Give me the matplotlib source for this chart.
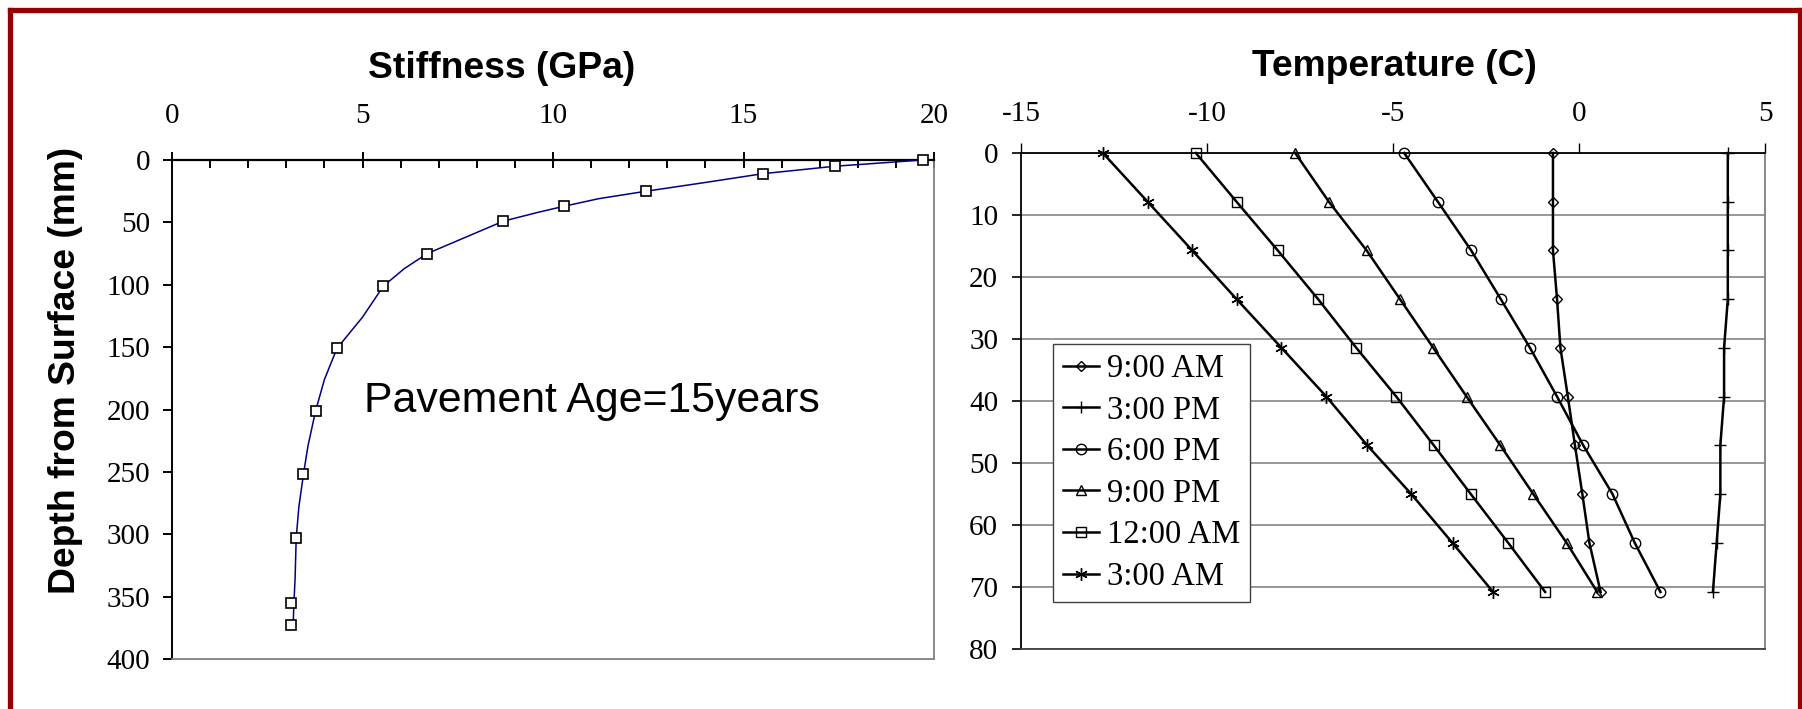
import matplotlib
matplotlib.use("Agg")
import matplotlib.pyplot as plt
from matplotlib.lines import Line2D
from matplotlib.ticker import MultipleLocator

# left panel: stiffness profile
stiff_pts = [19.7, 17.4, 15.5, 12.45, 10.3, 8.7, 6.7, 5.55, 4.33, 3.77, 3.45, 3.26, 3.13, 3.13]
depth_pts = [0, 5, 11, 25, 37, 49, 75, 101, 151, 201, 252, 303, 355, 373]
stiff_line = [19.7, 17.4, 15.5, 14.0, 12.45, 11.2, 10.3, 9.6, 8.7, 7.7, 6.7, 6.1, 5.55,
              5.0, 4.33, 4.0, 3.77, 3.57, 3.45, 3.33, 3.26, 3.23, 3.2, 3.18]
depth_line = [0, 5, 11, 18, 25, 31, 37, 42, 49, 62, 75, 87, 101,
              126, 151, 176, 201, 229, 252, 278, 303, 336, 355, 373]

# right panel: temperature profiles
depth_t = [0, 7.9, 15.7, 23.6, 31.4, 39.3, 47.1, 55.0, 62.9, 70.8]
t_0900am = [-0.70, -0.70, -0.70, -0.59, -0.50, -0.30, -0.11, 0.09, 0.28, 0.58]
t_0300pm = [4.0, 4.0, 4.0, 4.0, 3.9, 3.9, 3.8, 3.8, 3.7, 3.6]
t_0600pm = [-4.70, -3.79, -2.90, -2.10, -1.32, -0.59, 0.11, 0.90, 1.50, 2.19]
t_0900pm = [-7.63, -6.72, -5.71, -4.81, -3.92, -3.02, -2.12, -1.23, -0.33, 0.49]
t_1200am = [-10.30, -9.20, -8.10, -7.01, -5.99, -4.91, -3.91, -2.91, -1.90, -0.91]
t_0300am = [-12.80, -11.59, -10.40, -9.20, -8.00, -6.79, -5.70, -4.51, -3.40, -2.31]
series_labels = ["9:00 AM", "3:00 PM", "6:00 PM", "9:00 PM", "12:00 AM", "3:00 AM"]

SERIF = "Liberation Serif"
SANS = "Liberation Sans"
plt.rcParams["axes.unicode_minus"] = False

fig = plt.figure(figsize=(18.02, 7.09), dpi=100)

# dark red frame (open at bottom)
frame_col = "#9A0000"
fig.add_artist(Line2D([9.5 / 1802, 9.5 / 1802], [0, 1 - 9.5 / 709], color=frame_col, lw=3.8,
                      transform=fig.transFigure, solid_capstyle="projecting"))
fig.add_artist(Line2D([9.5 / 1802, 1 - 2.5 / 1802], [1 - 9.5 / 709, 1 - 9.5 / 709], color=frame_col,
                      lw=3.8, transform=fig.transFigure, solid_capstyle="projecting"))
fig.add_artist(Line2D([1 - 2.5 / 1802, 1 - 2.5 / 1802], [0, 1 - 9.5 / 709], color=frame_col, lw=3.8,
                      transform=fig.transFigure, solid_capstyle="projecting"))

# ---- left axes
ax1 = fig.add_axes([172 / 1802, 1 - 659 / 709, (934 - 172) / 1802, (659 - 160) / 709])
ax1.plot(stiff_line, depth_line, color="#000080", lw=1.1, zorder=3)
ax1.plot(stiff_pts, depth_pts, ls="none", marker="s", ms=7.5, mfc="white", mec="black",
         mew=1.2, zorder=4, clip_on=False)
ax1.set_xlim(0, 20)
ax1.set_ylim(400, 0)
ax1.xaxis.tick_top()
ax1.xaxis.set_major_locator(MultipleLocator(5))
ax1.xaxis.set_minor_locator(MultipleLocator(1))
ax1.yaxis.set_major_locator(MultipleLocator(50))
ax1.tick_params(axis="x", which="major", direction="inout", length=11, width=1.4, pad=17,
                labelsize=21)
ax1.tick_params(axis="x", which="minor", direction="in", length=6, width=1.4)
ax1.tick_params(axis="y", which="major", direction="out", length=6.5, width=1.4, pad=9,
                labelsize=21)
for lab in ax1.get_xticklabels() + ax1.get_yticklabels():
    lab.set_family(SERIF)
ax1.spines["top"].set_linewidth(1.6)
ax1.spines["left"].set_linewidth(1.4)
ax1.spines["right"].set_color("#808080")
ax1.spines["bottom"].set_color("#808080")
ax1.spines["right"].set_linewidth(1.3)
ax1.spines["bottom"].set_linewidth(1.3)
ax1.text(0.551, 0.517, "Pavement Age=15years", transform=ax1.transAxes, ha="center",
         va="center", fontsize=30.8, family=SANS)

fig.text(502 / 1802, 1 - 68 / 709, "Stiffness (GPa)", ha="center", va="center",
         fontsize=26.8, fontweight="bold", family=SANS)
fig.text(66 / 1802, 1 - 370 / 709, "Depth from Surface (mm)", ha="center", va="center",
         rotation=90, fontsize=26.8, fontweight="bold", family=SANS)

# ---- right axes
ax2 = fig.add_axes([1021 / 1802, 1 - 649 / 709, (1765 - 1021) / 1802, (649 - 153) / 709])
styles = [
    (t_0900am, dict(marker="D", ms=5.5)),
    (t_0300pm, dict(marker="+", ms=9)),
    (t_0600pm, dict(marker="o", ms=7.5)),
    (t_0900pm, dict(marker="^", ms=7.5)),
    (t_1200am, dict(marker="s", ms=7.5)),
    (t_0300am, dict(marker=(6, 2, 0), ms=9)),
]
for (vals, st), lab in zip(styles, series_labels):
    ax2.plot(vals, depth_t, color="black", lw=1.8, mfc="none", mec="black", mew=1.0,
             label=lab, zorder=3, clip_on=False, **st)
ax2.set_xlim(-15, 5)
ax2.set_ylim(80, 0)
ax2.xaxis.tick_top()
ax2.xaxis.set_major_locator(MultipleLocator(5))
ax2.yaxis.set_major_locator(MultipleLocator(10))
ax2.yaxis.grid(True, color="#7a7a7a", lw=1.1)
ax2.set_axisbelow(True)
ax2.tick_params(axis="x", direction="out", length=7, width=1.0, pad=12, labelsize=21)
ax2.tick_params(axis="y", direction="out", length=6.5, width=1.2, pad=10, labelsize=21)
for lab in ax2.get_xticklabels() + ax2.get_yticklabels():
    lab.set_family(SERIF)
ax2.spines["top"].set_linewidth(1.3)
ax2.spines["left"].set_linewidth(1.3)
ax2.spines["right"].set_color("#808080")
ax2.spines["right"].set_linewidth(1.3)
ax2.spines["bottom"].set_color("#404040")
ax2.spines["bottom"].set_linewidth(1.3)

leg = ax2.legend(loc="lower left", bbox_to_anchor=(0.043, 0.095), borderaxespad=0,
                 prop={"family": SERIF, "size": 23.5}, handlelength=1.1, handletextpad=0.25,
                 labelspacing=0.34, borderpad=0.3, fancybox=False, framealpha=1,
                 edgecolor="#404040")
leg.get_frame().set_linewidth(1.0)

fig.text(1394 / 1802, 1 - 66 / 709, "Temperature (C)", ha="center", va="center",
         fontsize=26.8, fontweight="bold", family=SANS)

fig.savefig("out.png", dpi=100)
